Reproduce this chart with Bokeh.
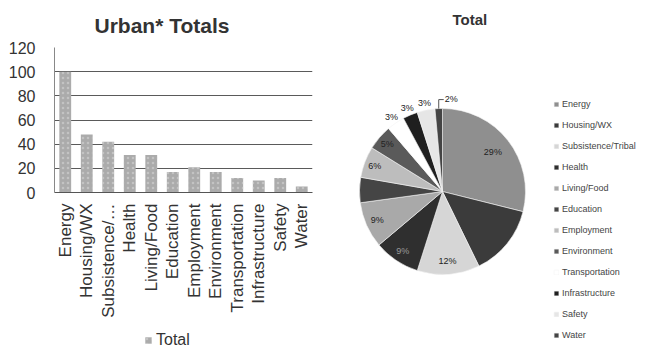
import math
from bokeh.plotting import figure
from bokeh.layouts import row, column
from bokeh.models import (ColumnDataSource, Legend, LegendItem, Range1d,
                          SingleIntervalTicker)
from bokeh.core.properties import value
from bokeh.embed import file_html
from bokeh.resources import INLINE

# ---------------- data ----------------
categories = ["Energy", "Housing/WX", "Subsistence/Tribal", "Health", "Living/Food",
              "Education", "Employment", "Environment", "Transportation",
              "Infrastructure", "Safety", "Water"]
axis_labels = ["Energy", "Housing/WX", "Subsistence/…", "Health", "Living/Food",
               "Education", "Employment", "Environment", "Transportation",
               "Infrastructure", "Safety", "Water"]
totals = [100, 48, 42, 31, 31, 17, 21, 17, 12, 10, 12, 5]
series_name = "Total"
pie_pct_labels = ["29%", "", "12%", "9%", "9%", "", "6%", "5%", "3%", "3%", "3%", "2%"]
pie_label_outside = [False, False, False, False, False, False, False, False,
                     True, True, True, True]
y_ticks_interval = 20
pie_colors = ["#8f8f8f", "#3b3b3b", "#d6d6d6", "#2f2f2f", "#a9a9a9", "#454545",
              "#bdbdbd", "#5a5a5a", "#ffffff", "#1f1f1f", "#e6e6e6", "#444444"]

FONT = "Liberation Sans"
BAR_STYLE = dict(fill_color="#ababab", line_color=None, hatch_pattern=".",
                 hatch_color="#d2d2d2", hatch_scale=5, hatch_alpha=0.6)

# ---------------- left: bar chart ----------------
p1 = figure(width=330, height=320, x_range=axis_labels, y_range=Range1d(0, 120),
            output_backend="svg", toolbar_location=None, title="Urban* Totals",
            min_border_left=54, min_border_right=18, min_border_top=47,
            min_border_bottom=128)
p1.frame_align = False
p1.title.text_font = FONT
p1.title.text_font_size = "21px"
p1.title.text_font_style = "bold"
p1.title.text_color = "#333333"
p1.title.align = "left"
p1.title.offset = 40
p1.title.standoff = 21

bars = p1.vbar(x=axis_labels, top=totals, width=0.55, **BAR_STYLE)

p1.outline_line_color = None
p1.xgrid.grid_line_color = None
p1.ygrid.grid_line_color = "#5a5a5a"
p1.ygrid.grid_line_width = 1
p1.yaxis.ticker = SingleIntervalTicker(interval=y_ticks_interval)
p1.yaxis.axis_line_color = "#888888"
p1.yaxis.major_tick_line_color = None
p1.yaxis.minor_tick_line_color = None
p1.yaxis.major_label_text_font = FONT
p1.yaxis.major_label_text_font_size = "16px"
p1.yaxis.major_label_text_color = "#333333"
p1.yaxis.major_label_standoff = 13

p1.xaxis.axis_line_color = "#555555"
p1.xaxis.major_tick_line_color = None
p1.xaxis.major_label_orientation = math.pi / 2
p1.xaxis.major_label_text_font = FONT
p1.xaxis.major_label_text_font_size = "17px"
p1.xaxis.major_label_text_color = "#333333"
p1.xaxis.major_label_standoff = 5

# legend strip under the bar chart (same series, same style)
pl = figure(width=330, height=30, x_range=axis_labels, y_range=Range1d(0, 1),
            output_backend="svg", toolbar_location=None,
            min_border_left=54, min_border_right=18, min_border_top=0,
            min_border_bottom=0)
pl.frame_align = False
pl.axis.visible = False
pl.grid.visible = False
pl.outline_line_color = None
leg_bars = pl.vbar(x=axis_labels, top=totals, width=0.55, visible=False, **BAR_STYLE)
leg1 = Legend(items=[LegendItem(label=series_name, renderers=[leg_bars])],
              location=(90, 0), orientation="horizontal",
              background_fill_alpha=0, border_line_color=None,
              inactive_fill_alpha=0,
              label_text_font=FONT, label_text_font_size="16px",
              label_text_color="#333333", glyph_width=8, glyph_height=8,
              label_height=20, padding=0, margin=0, label_standoff=4)
pl.add_layout(leg1)

# ---------------- right: pie chart ----------------
p2 = figure(width=315, height=350, x_range=Range1d(0, 315), y_range=Range1d(0, 320),
            output_backend="svg", toolbar_location=None, title=series_name,
            min_border_left=0, min_border_right=0, min_border_top=30,
            min_border_bottom=0)
p2.frame_align = False
p2.title.text_font = FONT
p2.title.text_font_size = "15px"
p2.title.text_font_style = "bold"
p2.title.text_color = "#333333"
p2.title.align = "left"
p2.title.offset = 122
p2.title.standoff = 5
p2.axis.visible = False
p2.grid.visible = False
p2.outline_line_color = None

cx, cy, r = 112, 159, 83
tot = sum(totals)
starts, ends, mids = [], [], []
acc = 0.0
for v in totals:
    a0 = acc / tot * 2 * math.pi
    acc += v
    a1 = acc / tot * 2 * math.pi
    # clockwise from 12 o'clock -> bokeh anticlockwise angles
    starts.append(math.pi / 2 - a1)
    ends.append(math.pi / 2 - a0)
    mids.append(math.pi / 2 - (a0 + a1) / 2)

src = ColumnDataSource(dict(cat=categories, start=starts, end=ends, color=pie_colors))
w = p2.wedge(x=cx, y=cy, radius=r, start_angle="start", end_angle="end",
             fill_color="color", line_color="#f4f4f4", line_width=0.6, source=src)


def lum(c):
    return int(c[1:3], 16) / 255.0


lx, ly, lt, lc = [], [], [], []
for i, lab in enumerate(pie_pct_labels):
    if not lab:
        continue
    frac = totals[i] / tot
    if pie_label_outside[i]:
        if i == len(totals) - 1:
            continue
        f = 1.09
        col = "#222222"
    else:
        f = 0.9 - 0.45 * frac
        col = "#9a9a9a" if lum(pie_colors[i]) < 0.3 else "#222222"
    lx.append(cx + f * r * math.cos(mids[i]))
    ly.append(cy + f * r * math.sin(mids[i]))
    lt.append(lab)
    lc.append(col)
p2.text(x=lx, y=ly, text=lt, text_align="center", text_baseline="middle",
        text_font_size="9px", text_color=lc, text_font=value(FONT))

# leader line for the last (smallest) slice
i = len(totals) - 1
ex = cx + r * math.cos(mids[i])
ey = cy + r * math.sin(mids[i])
p2.line(x=[ex, ex, ex + 5], y=[ey, ey + 9, ey + 9], line_color="#555555", line_width=1)
p2.text(x=[ex + 6], y=[ey + 10], text=[pie_pct_labels[i]], text_align="left",
        text_baseline="middle", text_font_size="9px", text_color="#222222",
        text_font=value(FONT))

leg2 = Legend(items=[LegendItem(label=c, renderers=[w], index=k)
                     for k, c in enumerate(categories)],
              location=(223, 5), background_fill_alpha=0, border_line_color=None,
              label_text_font=FONT, label_text_font_size="9px",
              label_text_color="#444444", glyph_width=6, glyph_height=6,
              label_height=20, spacing=1, padding=0, margin=0, label_standoff=3)
p2.add_layout(leg2)

layout = row(column(p1, pl, spacing=0), p2, spacing=0)
open("out.html", "w").write(file_html(layout, INLINE))
